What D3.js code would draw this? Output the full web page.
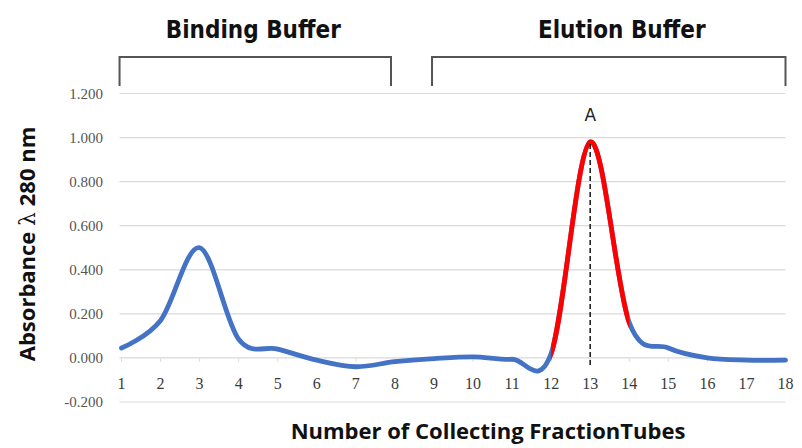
<!DOCTYPE html>
<html>
<head>
<meta charset="utf-8">
<script src="https://cdn.jsdelivr.net/npm/d3@7"></script>
<style>
  html, body { margin: 0; padding: 0; background: #fff; }
  svg { display: block; }
</style>
</head>
<body>
<svg id="chart" width="802" height="448"></svg>
<script>
// ─── Data ────────────────────────────────────────────────────────────
const tubes = [1, 2, 3, 4, 5, 6, 7, 8, 9, 10, 11, 12, 13, 14, 15, 16, 17, 18];
const absorbance = [0.045, 0.17, 0.50, 0.085, 0.04, -0.01, -0.04, -0.017, -0.003, 0.005,
                    -0.006, 0.02, 0.98, 0.16, 0.045, 0.0, -0.01, -0.01];
const yTicks = [-0.2, 0, 0.2, 0.4, 0.6, 0.8, 1.0, 1.2];
const peakRange = [12, 14];     // fractions drawn in red
const peakTube = 13;
const buffers = [
  { name: "Binding Buffer", from: 0.95, to: 7.9 },
  { name: "Elution Buffer", from: 8.95, to: 18 }
];

// ─── Setup ───────────────────────────────────────────────────────────
const height = 448;
const svg = d3.select("#chart");

const x = d3.scaleLinear().domain([1, 18]).range([121.5, 785.5]);
const y = d3.scaleLinear().domain([-0.2, 1.2]).range([402, 93.5]);

const data = tubes.map((t, i) => ({ x: t, y: absorbance[i] }));
const fmt = d => d3.format(".3f")(d).replace("−", "-");

// ─── Grid lines ──────────────────────────────────────────────────────
svg.append("g")
  .selectAll("line")
  .data(yTicks)
  .join("line")
  .attr("x1", x(1) - 2)
  .attr("x2", x(18))
  .attr("y1", d => y(d))
  .attr("y2", d => y(d))
  .attr("stroke", "#d9d9d9")
  .attr("stroke-width", 1.2);

// small tick marks under the zero line
svg.append("g")
  .selectAll("line")
  .data(tubes)
  .join("line")
  .attr("x1", d => x(d)).attr("x2", d => x(d))
  .attr("y1", y(0)).attr("y2", y(0) + 4)
  .attr("stroke", "#dcdcdc")
  .attr("stroke-width", 1);

// ─── Y tick labels ───────────────────────────────────────────────────
svg.append("g")
  .selectAll("text")
  .data(yTicks)
  .join("text")
  .attr("x", 103)
  .attr("y", d => y(d))
  .attr("dy", "0.35em")
  .attr("text-anchor", "end")
  .attr("font-family", "Liberation Serif, serif")
  .attr("font-size", 15)
  .attr("fill", "#555")
  .text(fmt);

// ─── X tick labels ───────────────────────────────────────────────────
svg.append("g")
  .selectAll("text")
  .data(tubes)
  .join("text")
  .attr("x", d => x(d))
  .attr("y", 389)
  .attr("text-anchor", "middle")
  .attr("font-family", "Liberation Serif, serif")
  .attr("font-size", 16)
  .attr("fill", "#3a3a3a")
  .text(d => d);

// ─── Line ────────────────────────────────────────────────────────────
const line = d3.line()
  .x(d => x(d.x))
  .y(d => y(d.y))
  .curve(d3.curveCardinal.tension(0));

svg.append("path")
  .datum(data)
  .attr("fill", "none")
  .attr("stroke", "#4472c4")
  .attr("stroke-width", 4.8)
  .attr("stroke-linecap", "round")
  .attr("stroke-linejoin", "round")
  .attr("d", line);

svg.append("clipPath")
  .attr("id", "peak-clip")
  .append("rect")
  .attr("x", x(peakRange[0]))
  .attr("y", 0)
  .attr("width", x(peakRange[1]) - x(peakRange[0]))
  .attr("height", height);

svg.append("path")
  .datum(data)
  .attr("clip-path", "url(#peak-clip)")
  .attr("fill", "none")
  .attr("stroke", "#ff0000")
  .attr("stroke-width", 4.8)
  .attr("stroke-linejoin", "round")
  .attr("d", line);

// ─── Peak marker ─────────────────────────────────────────────────────
const peakVal = absorbance[tubes.indexOf(peakTube)];
svg.append("line")
  .attr("x1", x(peakTube)).attr("x2", x(peakTube))
  .attr("y1", y(peakVal) + 2)
  .attr("y2", y(0) + 9)
  .attr("stroke", "#222")
  .attr("stroke-width", 1.6)
  .attr("stroke-dasharray", "5 3");

svg.append("text")
  .attr("x", x(peakTube))
  .attr("y", 121)
  .attr("text-anchor", "middle")
  .attr("font-family", "DejaVu Sans, sans-serif")
  .attr("font-size", 17)
  .attr("fill", "#222")
  .text("A");

// ─── Buffer brackets ─────────────────────────────────────────────────
const brackets = svg.append("g");
buffers.forEach(b => {
  const x0 = x(b.from), x1 = x(b.to);
  brackets.append("path")
    .attr("d", `M${x0},86V57H${x1}V86`)
    .attr("fill", "none")
    .attr("stroke", "#555")
    .attr("stroke-width", 2);
  brackets.append("text")
    .attr("x", (x0 + x1) / 2 + (b.name === "Elution Buffer" ? 13 : -2))
    .attr("y", 38)
    .attr("text-anchor", "middle")
    .attr("font-family", "DejaVu Sans Condensed, DejaVu Sans, sans-serif")
    .attr("font-weight", "bold")
    .attr("font-size", 24)
    .attr("fill", "#111")
    .text(b.name);
});

// ─── Axis titles ─────────────────────────────────────────────────────
const yTitle = svg.append("text")
  .attr("transform", "translate(35,244) rotate(-90)")
  .attr("text-anchor", "middle")
  .attr("font-family", "Open Sans, sans-serif")
  .attr("font-weight", "bold")
  .attr("font-size", 22)
  .attr("fill", "#111");
yTitle.append("tspan").text("Absorbance ");
yTitle.append("tspan").attr("font-family", "DejaVu Serif, serif").attr("font-weight", "normal").text("λ");
yTitle.append("tspan").text(" 280 nm");

svg.append("text")
  .attr("x", 488)
  .attr("y", 439)
  .attr("text-anchor", "middle")
  .attr("font-family", "Open Sans, sans-serif")
  .attr("font-weight", "bold")
  .attr("font-size", 22)
  .attr("fill", "#111")
  .text("Number of Collecting FractionTubes");
</script>
</body>
</html>
